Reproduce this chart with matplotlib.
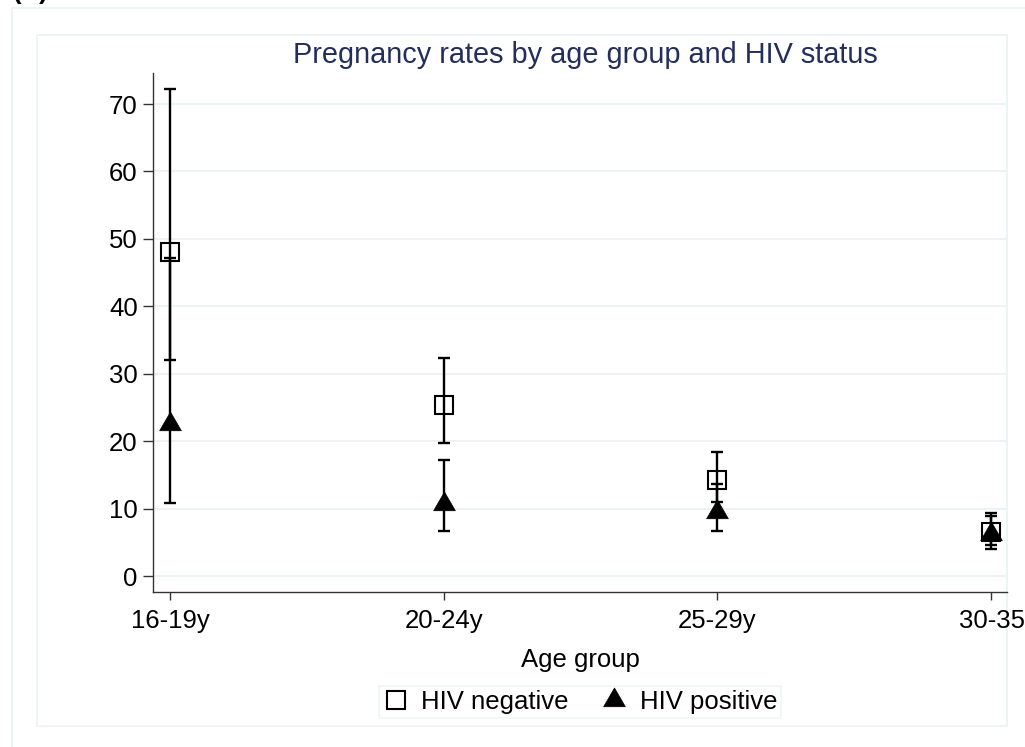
import matplotlib
matplotlib.use('Agg')
import matplotlib.pyplot as plt
from matplotlib.patches import Rectangle
from matplotlib.lines import Line2D
from matplotlib.path import Path
from matplotlib.transforms import ScaledTranslation

plt.rcParams['font.family'] = ['Liberation Sans', 'DejaVu Sans']

# data
age_groups = ['16-19y', '20-24y', '25-29y', '30-35y']
neg_rate = [48.0, 25.4, 14.2, 6.6]
neg_lo = [32.0, 19.8, 11.0, 4.6]
neg_hi = [72.2, 32.4, 18.4, 9.3]
pos_rate = [22.6, 10.7, 9.5, 6.3]
pos_lo = [10.8, 6.7, 6.7, 4.0]
pos_hi = [47.1, 17.2, 13.7, 8.9]
y_ticks = [0, 10, 20, 30, 40, 50, 60, 70]

W, H = 1025, 747
FS = 18.5
GRID = '#EAF2F3'
TITLE_C = '#222f5c'

def fx(px):
    return px / W

def fy(py):
    return 1 - py / H

# triangle with its centroid on the data point (Stata style)
tri = Path([(0, 12.67), (-11, -6.33), (11, -6.33), (0, 12.67)], closed=True)

fig = plt.figure(figsize=(W / 100, H / 100), dpi=100)
fig.patch.set_facecolor('white')

ax = fig.add_axes([fx(153), fy(592), fx(1007 - 153), (592 - 73) / H])
ax.set_facecolor('none')
x = list(range(1, len(age_groups) + 1))

err_kw = dict(fmt='none', ecolor='black', elinewidth=1.7, capsize=4.5, capthick=1.7, zorder=3)
ax.errorbar(x, neg_rate, yerr=[[r - l for r, l in zip(neg_rate, neg_lo)],
                               [h - r for r, h in zip(neg_rate, neg_hi)]], **err_kw)
ax.errorbar(x, pos_rate, yerr=[[r - l for r, l in zip(pos_rate, pos_lo)],
                               [h - r for r, h in zip(pos_rate, pos_hi)]], **err_kw)
ax.plot(x, neg_rate, ls='none', marker='s', ms=12.5, mfc='none', mec='black', mew=1.5, zorder=4)
ax.plot(x, pos_rate, ls='none', marker=tri, ms=18, mfc='black', mec='black', mew=0.5, zorder=5)

ax.set_xlim(0.937, 4.058)
ax.set_ylim(-2.37, 74.6)
ax.set_xticks(x)
ax.set_xticklabels(age_groups)
ax.set_yticks(y_ticks)
ax.tick_params(axis='y', length=7, width=1, color='#333333', pad=4, labelsize=FS)
ax.tick_params(axis='x', length=6, width=1, color='#333333', pad=6, labelsize=FS)
ax.yaxis.grid(True, color=GRID, lw=1.3)
ax.set_axisbelow(True)
for s in ['top', 'right']:
    ax.spines[s].set_visible(False)
for s in ['left', 'bottom']:
    ax.spines[s].set_color('#333333')
    ax.spines[s].set_linewidth(1)

# last label sits a little to the right and runs off the edge
last = ax.get_xticklabels()[-1]
last.set_transform(last.get_transform() + ScaledTranslation(7 / 100, 0, fig.dpi_scale_trans))

# outer and inner frames
fig.add_artist(Rectangle((fx(12), fy(770)), fx(1040 - 12), (770 - 8) / H, transform=fig.transFigure,
                         facecolor='none', edgecolor=GRID, lw=1.2, zorder=-1))
fig.add_artist(Rectangle((fx(37), fy(726)), fx(1007 - 37), (726 - 35) / H, transform=fig.transFigure,
                         facecolor='none', edgecolor=GRID, lw=1.2, zorder=-1))

fig.text(fx(585), fy(63), 'Pregnancy rates by age group and HIV status', ha='center',
         va='baseline', fontsize=20.8, color=TITLE_C)
fig.text(fx(580), fy(667), 'Age group', ha='center', va='baseline', fontsize=FS)
fig.text(fx(13), fy(-1), '(A)', ha='left', va='baseline', fontsize=FS, fontweight='bold')

handles = [Line2D([], [], ls='none', marker='s', ms=12.5, mfc='none', mec='black', mew=1.5),
           Line2D([], [], ls='none', marker=tri, ms=18, mfc='black', mec='black', mew=0.5)]
leg = fig.legend(handles, ['HIV negative', 'HIV positive'], loc='center',
                 bbox_to_anchor=(fx(580), fy(702)), ncol=2, fontsize=FS, frameon=True,
                 fancybox=False, edgecolor=GRID, borderpad=0.15, handlelength=1.0,
                 handletextpad=0.5, columnspacing=1.25, borderaxespad=0)
leg.get_frame().set_linewidth(1.2)

fig.savefig('out.png', dpi=100, facecolor='white')
